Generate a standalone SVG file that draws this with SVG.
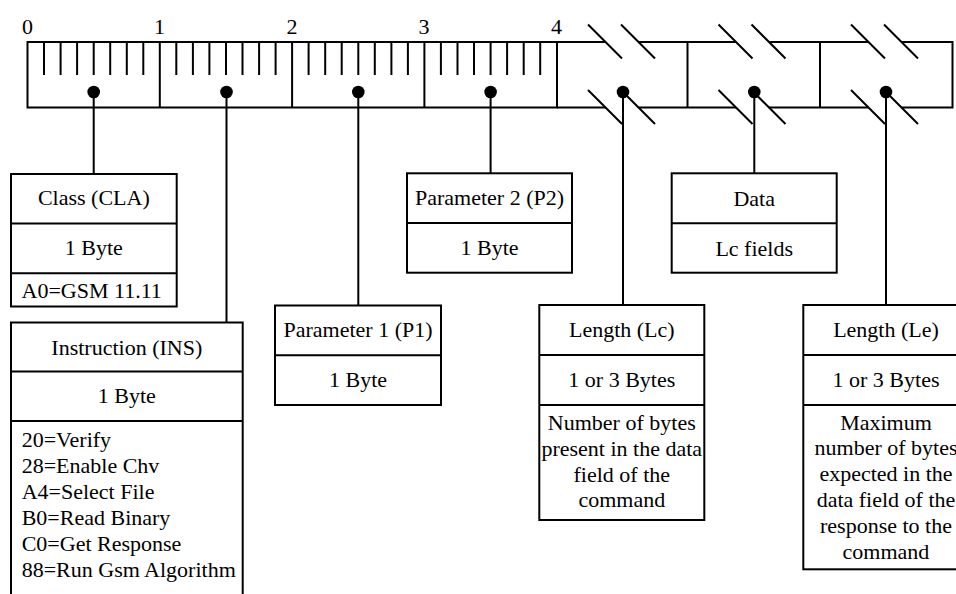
<svg xmlns="http://www.w3.org/2000/svg" width="956" height="594" viewBox="0 0 956 594" font-family="Liberation Serif" font-size="22">
  <style>
    .ln { fill: none; stroke: #000; stroke-width: 2; stroke-linecap: butt; }
    .box { fill: #fff; stroke: #000; stroke-width: 2; }
    .c { text-anchor: middle; }
    .dot { fill: #000; }
  </style>
  <rect width="956" height="594" fill="#fff"/>

  <!-- Ruler: byte scale 0..4 with minor ticks, then three open-ended fields -->
  <g id="ruler">
    <text class="c" x="27.5" y="34">0</text>
    <text class="c" x="159.5" y="34">1</text>
    <text class="c" x="292" y="34">2</text>
    <text class="c" x="424" y="34">3</text>
    <text class="c" x="556.5" y="34">4</text>
    <!-- outline of the fixed part -->
    <path class="ln" d="M27.5 42 H557 M27.5 107.5 H557 M27.5 41 V108.5 M159.8 42 V107.5 M292.1 42 V107.5 M424.4 42 V107.5 M557 41 V108.5"/>
    <!-- minor ticks -->
    <path class="ln" d="M44 42 V75 M60.6 42 V75 M77.1 42 V75 M93.7 42 V75 M110.2 42 V75 M126.8 42 V75 M143.3 42 V75
      M176.3 42 V75 M192.9 42 V75 M209.4 42 V75 M226 42 V75 M242.5 42 V75 M259.1 42 V75 M275.6 42 V75
      M308.6 42 V75 M325.2 42 V75 M341.7 42 V75 M358.3 42 V75 M374.8 42 V75 M391.4 42 V75 M407.9 42 V75
      M440.9 42 V75 M457.5 42 V75 M474 42 V75 M490.6 42 V75 M507.1 42 V75 M523.7 42 V75 M540.2 42 V75"/>
    <!-- variable-length fields with break marks -->
    <path class="ln" d="M557 42 H605.5 M638.5 42 H736 M769 42 H868.5 M901.5 42 H953.5
      M557 107.5 H605.5 M638.5 107.5 H736 M769 107.5 H868.5 M901.5 107.5 H953.5
      M687.5 42 V107.5 M820 42 V107.5 M952.5 41 V108.5"/>
    <path class="ln" d="M588 24.5 L622 58.5 M621 24.5 L655 58.5 M588 90 L622 124 M621 90 L655 124
      M718.5 24.5 L752.5 58.5 M751.5 24.5 L785.5 58.5 M718.5 90 L752.5 124 M751.5 90 L785.5 124
      M851 24.5 L885 58.5 M884 24.5 L918 58.5 M851 90 L885 124 M884 90 L918 124"/>
  </g>

  <!-- Connectors from each byte field down to its description -->
  <g id="connectors">
    <path class="ln" d="M93.7 92 V174 M226.5 92 V322.5 M358.3 92 V305.5 M490.6 92 V173.3 M623 92 V305 M754.3 92 V173.3 M886 92 V305"/>
    <circle class="dot" cx="93.7" cy="92" r="6.3"/>
    <circle class="dot" cx="226.5" cy="92" r="6.3"/>
    <circle class="dot" cx="358.3" cy="92" r="6.3"/>
    <circle class="dot" cx="490.6" cy="92" r="6.3"/>
    <circle class="dot" cx="623" cy="92" r="6.3"/>
    <circle class="dot" cx="754.3" cy="92" r="6.3"/>
    <circle class="dot" cx="886" cy="92" r="6.3"/>
  </g>

  <g id="cla">
    <rect class="box" x="11" y="174" width="165.7" height="132.5"/>
    <path class="ln" d="M11 223.5 H176.7 M11 273.3 H176.7"/>
    <text class="c" x="93.8" y="205.3">Class (CLA)</text>
    <text class="c" x="93.8" y="255">1 Byte</text>
    <text x="21.5" y="298.3">A0=GSM 11.11</text>
  </g>

  <g id="ins">
    <path class="box" d="M11 600 V322.5 H242.7 V600"/>
    <path class="ln" d="M11 371.5 H242.7 M11 421 H242.7"/>
    <text class="c" x="126.8" y="354.5">Instruction (INS)</text>
    <text class="c" x="126.8" y="403.3">1 Byte</text>
    <text x="21.7" y="446.7">20=Verify</text>
    <text x="21.7" y="472.8">28=Enable Chv</text>
    <text x="21.7" y="498.9">A4=Select File</text>
    <text x="21.7" y="525">B0=Read Binary</text>
    <text x="21.7" y="551.1">C0=Get Response</text>
    <text x="21.7" y="577.2">88=Run Gsm Algorithm</text>
  </g>

  <g id="p1">
    <rect class="box" x="275" y="305.5" width="166" height="99.5"/>
    <path class="ln" d="M275 355.2 H441"/>
    <text class="c" x="358" y="337">Parameter 1 (P1)</text>
    <text class="c" x="358" y="386.8">1 Byte</text>
  </g>

  <g id="p2">
    <rect class="box" x="407" y="173.3" width="165" height="99.4"/>
    <path class="ln" d="M407 223 H572"/>
    <text class="c" x="489.5" y="205">Parameter 2 (P2)</text>
    <text class="c" x="489.5" y="254.6">1 Byte</text>
  </g>

  <g id="lc">
    <rect class="box" x="539.3" y="305" width="165" height="215"/>
    <path class="ln" d="M539.3 355 H704.3 M539.3 405 H704.3"/>
    <text class="c" x="621.8" y="336.6">Length (Lc)</text>
    <text class="c" x="621.8" y="386.8">1 or 3 Bytes</text>
    <text class="c" x="621.8" y="430">Number of bytes</text>
    <text class="c" x="621.8" y="455.8">present in the data</text>
    <text class="c" x="621.8" y="481.6">field of the</text>
    <text class="c" x="621.8" y="507.4">command</text>
  </g>

  <g id="data">
    <rect class="box" x="671.7" y="173.3" width="165" height="99.4"/>
    <path class="ln" d="M671.7 223.3 H836.7"/>
    <text class="c" x="754.2" y="206">Data</text>
    <text class="c" x="754.2" y="255.7">Lc fields</text>
  </g>

  <g id="le">
    <rect class="box" x="803.3" y="305" width="165.7" height="264.3"/>
    <path class="ln" d="M803.3 355 H969 M803.3 405 H969"/>
    <text class="c" x="886" y="336.6">Length (Le)</text>
    <text class="c" x="886" y="386.8">1 or 3 Bytes</text>
    <text class="c" x="886" y="429.5">Maximum</text>
    <text class="c" x="886" y="455.3">number of bytes</text>
    <text class="c" x="886" y="481.1">expected in the</text>
    <text class="c" x="886" y="506.9">data field of the</text>
    <text class="c" x="886" y="532.7">response to the</text>
    <text class="c" x="886" y="558.5">command</text>
  </g>
</svg>
